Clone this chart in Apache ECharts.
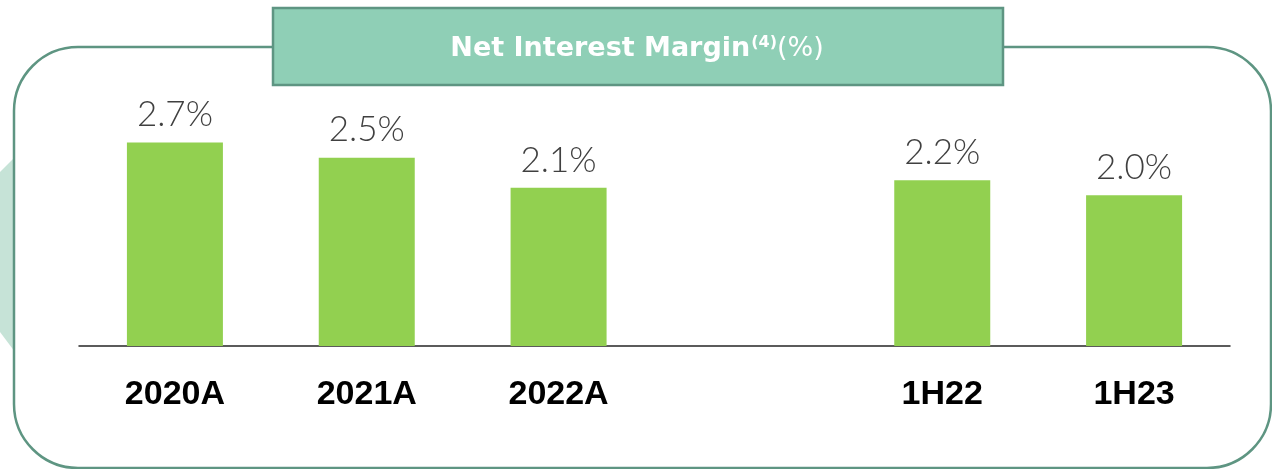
<!DOCTYPE html>
<html>
<head>
<meta charset="utf-8">
<title>Net Interest Margin</title>
<script src="https://cdn.jsdelivr.net/npm/echarts@6/dist/echarts.min.js"></script>
<style>
  html, body { margin: 0; padding: 0; background: #ffffff; }
  #chart { width: 1272px; height: 469px; }
</style>
</head>
<body>
<div id="chart"></div>
<script>
// Periods on the x axis; the blank slot separates full years from half years
const categories = ['2020A', '2021A', '2022A', '', '1H22', '1H23'];
// Net interest margin, in percent
const nimValues = [2.7, 2.5, 2.1, null, 2.2, 2.0];
const titleMain = 'Net Interest Margin';
const titleNote = '(4)';
const titleUnit = '(%)';

const frameColor = '#5e9582';
const barColor = '#92d050';

const chart = echarts.init(document.getElementById('chart'), null, { renderer: 'canvas' });

chart.setOption({
  animation: false,
  backgroundColor: '#ffffff',
  grid: { left: 79, right: 42, top: 120, bottom: 123 },
  xAxis: {
    type: 'category',
    data: categories,
    axisLine: { show: true, lineStyle: { color: '#262626', width: 1.5 } },
    axisTick: { show: false },
    axisLabel: {
      interval: 0,
      margin: 32,
      color: '#000000',
      fontFamily: 'Liberation Sans, Arial, sans-serif',
      fontWeight: 'bold',
      fontSize: 34
    }
  },
  yAxis: {
    type: 'value',
    min: 0,
    max: 3,
    show: false,
    splitLine: { show: false }
  },
  series: [{
    type: 'bar',
    data: nimValues,
    barWidth: 96,
    itemStyle: { color: barColor },
    label: {
      show: true,
      position: 'top',
      distance: 10,
      color: '#404040',
      fontFamily: 'Lato, sans-serif',
      fontWeight: 300,
      fontSize: 35,
      formatter: p => p.value.toFixed(1) + '%'
    }
  }],
  graphic: [
    {
      // pale accent peeking out on the left edge
      type: 'polygon',
      z: -2,
      shape: { points: [[0, 172], [15, 157], [15, 352], [0, 332]] },
      style: { fill: '#c6e3d7' }
    },
    {
      // rounded panel frame
      type: 'rect',
      z: -1,
      shape: { x: 14, y: 47, width: 1257, height: 421, r: 64 },
      style: { fill: '#ffffff', stroke: frameColor, lineWidth: 2.5 }
    },
    {
      // header box
      type: 'rect',
      z: 10,
      shape: { x: 273, y: 8, width: 730, height: 77 },
      style: { fill: '#8fcfb6', stroke: frameColor, lineWidth: 2.5 }
    },
    {
      type: 'text',
      z: 11,
      x: 637,
      y: 49,
      style: {
        text: '{m|' + titleMain + '}{n|' + titleNote + '}{u|' + titleUnit + '}',
        align: 'center',
        verticalAlign: 'middle',
        fill: '#ffffff',
        rich: {
          m: { fontFamily: 'DejaVu Sans, sans-serif', fontWeight: 'bold', fontSize: 27, fill: '#ffffff' },
          n: { fontFamily: 'DejaVu Sans, sans-serif', fontWeight: 'bold', fontSize: 16, fill: '#ffffff', verticalAlign: 'top', padding: [0, 0, 12, 1] },
          u: { fontFamily: 'DejaVu Sans, sans-serif', fontWeight: 'normal', fontSize: 27, fill: '#ffffff' }
        }
      }
    }
  ]
});
</script>
</body>
</html>
